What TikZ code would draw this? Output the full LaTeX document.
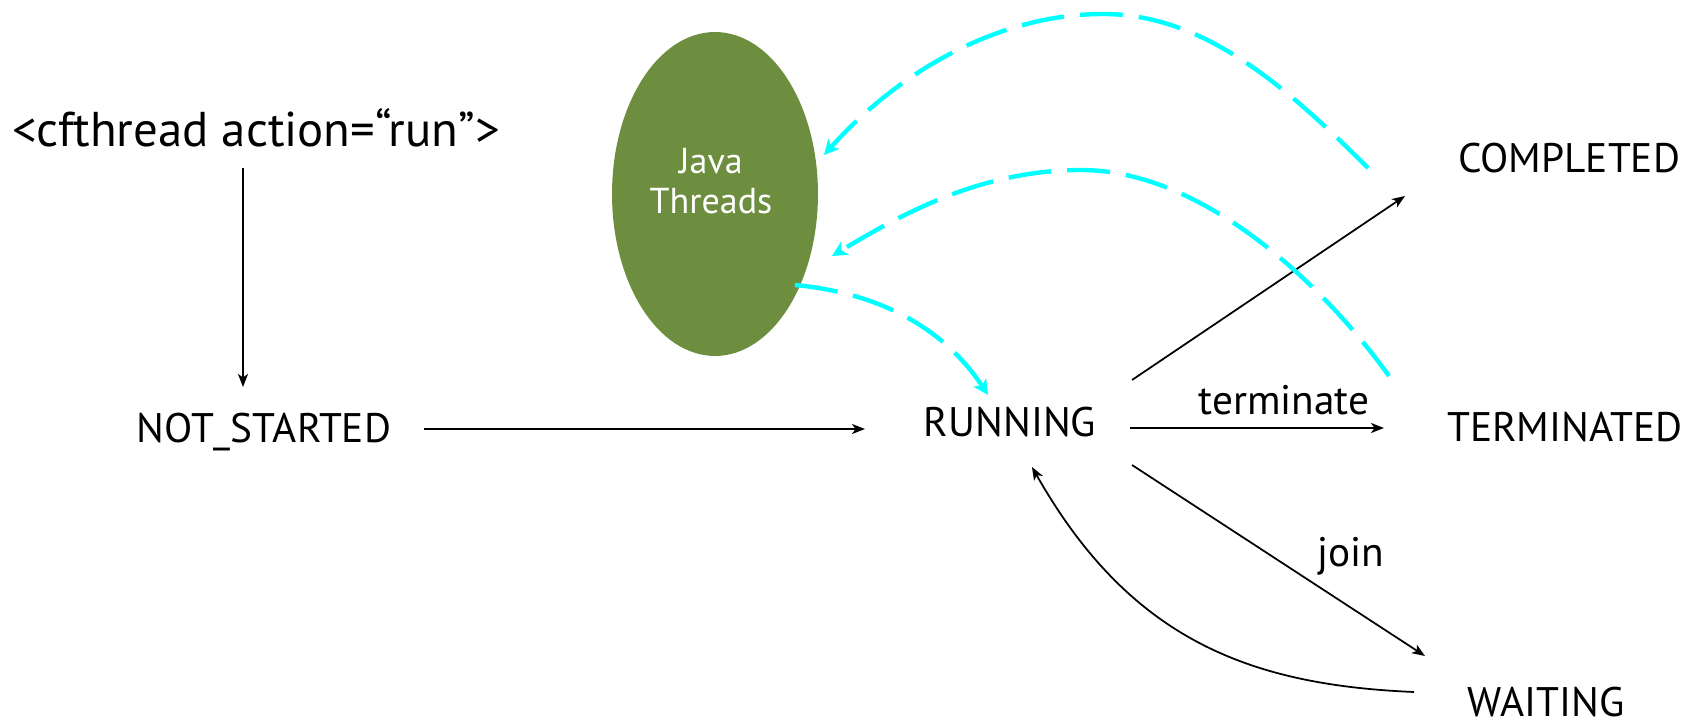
\documentclass[tikz,border=0pt]{standalone}
\usepackage{fontspec}
\setmainfont{PT Sans}
\usetikzlibrary{arrows.meta,shapes.geometric}
\definecolor{olive}{RGB}{109,142,63}
\definecolor{cyanline}{RGB}{0,255,255}
\tikzset{
  lbl/.style={inner sep=0pt, anchor=base, font=\fontsize{23.5}{28}\selectfont},
  arr/.style={line width=1pt, -{Stealth[length=0.26cm,width=0.2cm,inset=0.07cm]}},
  cyanarr/.style={draw=cyanline, line width=2.5pt, dash pattern=on 0.86cm off 0.32cm,
     -{Stealth[length=0.3cm,width=0.3cm,inset=0.08cm]}}
}
\begin{document}
\begin{tikzpicture}[x=0.02cm,y=-0.02cm]
\useasboundingbox (0,0) rectangle (1695,723);
\node[ellipse, fill=olive, minimum width=4.12cm, minimum height=6.48cm, inner sep=0pt] (jt) at (715,194) {};
\node[inner sep=0pt, align=center, text=white, font=\fontsize{20.5}{22.5}\selectfont] (jtxt) at (711,181) {Java\\Threads};
\node[lbl, font=\fontsize{27.8}{32}\selectfont] (cf) at (256,147) {<cfthread action=“run”>};
\node[lbl] (ns) at (264,442) {NOT\_STARTED};
\node[lbl] (run) at (1010,436) {RUNNING};
\node[lbl] (comp) at (1569,173) {COMPLETED};
\node[lbl] (term) at (1565,441) {TERMINATED};
\node[lbl] (wait) at (1546,716) {WAITING};
\node[lbl] (lterm) at (1284,414) {terminate};
\node[lbl] (ljoin) at (1351,566) {join};
% black arrows
\draw[arr] ([shift={(-13,21)}]cf.base) -- ([shift={(-21,-55)}]ns.base);
\draw[arr] ([shift={(160,-13)}]ns.base) -- ([shift={(-145,-7)}]run.base);
\draw[arr] ([shift={(122,-56)}]run.base) -- ([shift={(-164,23)}]comp.base);
\draw[arr] ([shift={(120,-8)}]run.base) -- ([shift={(-181,-13)}]term.base);
\draw[arr] ([shift={(122,29)}]run.base) -- ([shift={(-121,-60)}]wait.base);
\draw[arr] ([shift={(-132,-24)}]wait.base) .. controls (1250,685) and (1130,640) .. ([shift={(22,31)}]run.base);
% cyan dashed
\draw[cyanarr] ([shift={(80,91)}]jt.center) .. controls (870,292) and (940,322) .. ([shift={(-22,-41)}]run.base);
\draw[cyanarr] ([shift={(-176,-65)}]term.base) .. controls (1320,280) and (1200,170) .. (1081,170) .. controls (980,170) and (900,215) .. ([shift={(117,62)}]jt.center);
\draw[cyanarr] ([shift={(-201,-5)}]comp.base) .. controls (1280,80) and (1200,14) .. (1103,14) .. controls (1000,14) and (900,70) .. ([shift={(109,-39)}]jt.center);
\end{tikzpicture}
\end{document}
